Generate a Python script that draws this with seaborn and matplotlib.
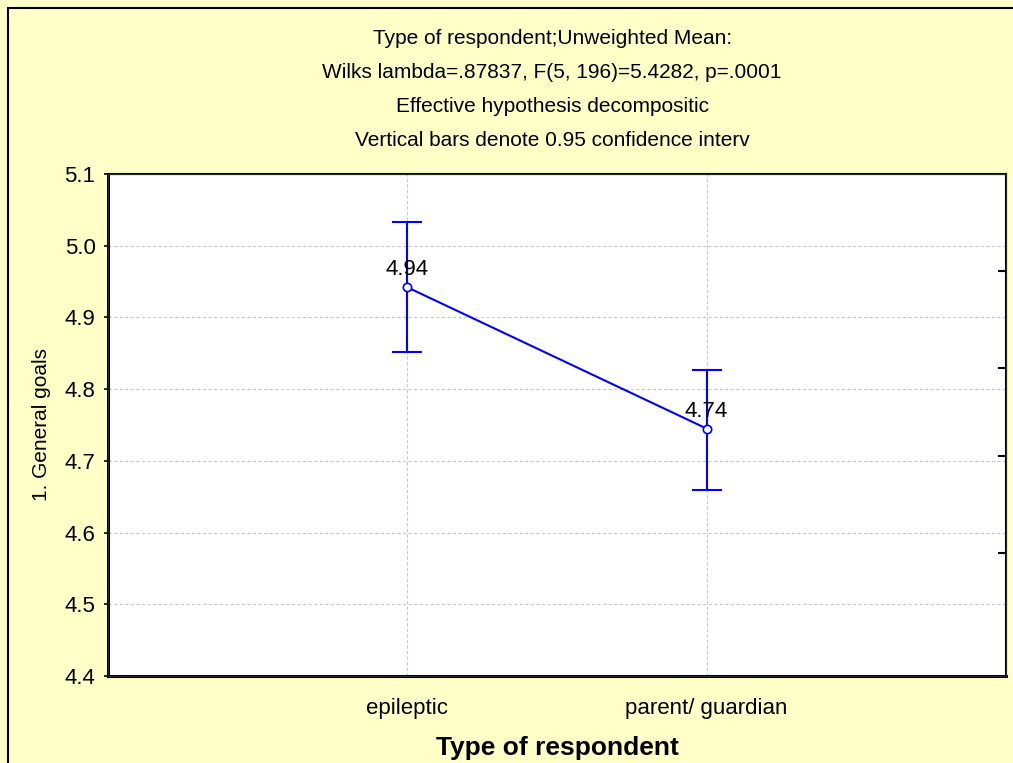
import matplotlib
matplotlib.use("Agg")
import matplotlib.pyplot as plt
import seaborn as sns
import pandas as pd
from matplotlib.patches import Rectangle

# values
groups = ["epileptic", "parent/ guardian"]
means = [4.942, 4.745]
ci_low = [4.852, 4.659]
ci_high = [5.033, 4.827]
mean_labels = ["4.94", "4.74"]

title_lines = ["Type of respondent;Unweighted Mean:",
               "Wilks lambda=.87837, F(5, 196)=5.4282, p=.0001",
               "Effective hypothesis decompositic",
               "Vertical bars denote 0.95 confidence interv"]
yticks = [4.4, 4.5, 4.6, 4.7, 4.8, 4.9, 5.0, 5.1]
right_ticks = [4.965, 4.829, 4.707, 4.571]

sns.set_style("white")
plt.rcParams['font.family'] = ['Liberation Sans', 'DejaVu Sans']
plt.rcParams['text.color'] = 'black'
plt.rcParams['axes.labelcolor'] = 'black'
plt.rcParams['xtick.color'] = 'black'
plt.rcParams['ytick.color'] = 'black'

df = pd.DataFrame({"group": groups, "mean": means})

fig = plt.figure(figsize=(10.13, 7.63), dpi=100)
fig.patch.set_facecolor("#ffffc8")
fig.patches.append(Rectangle((8 / 1013, -0.1), 1.2, 1.1 - 8 / 763,
                             transform=fig.transFigure, fill=False,
                             edgecolor="black", linewidth=1.5, zorder=0))
ax = fig.add_axes([0.1066, 0.114, 0.8864, 0.658])
ax.set_facecolor("white")

blue = "#0000ff"
ax.errorbar([0, 1], means,
            yerr=[[m - lo for m, lo in zip(means, ci_low)],
                  [hi - m for m, hi in zip(means, ci_high)]],
            fmt="none", ecolor=blue, elinewidth=1.5, capsize=11, capthick=1.5, zorder=3)
sns.pointplot(data=df, x="group", y="mean", errorbar=None, color=blue,
              markers="o", linewidth=1.5, markersize=6, markerfacecolor="white",
              markeredgecolor=blue, markeredgewidth=1.2, ax=ax, zorder=4)

for i, (m, lab) in enumerate(zip(means, mean_labels)):
    ax.annotate(lab, (i, m), xytext=(0, 5), textcoords="offset points",
                ha="center", va="bottom", fontsize=16, color="black")

ax.set_xlim(-1, 2)
ax.set_ylim(4.4, 5.1)
ax.set_yticks(yticks)
ax.set_yticklabels([f"{t:.1f}" for t in yticks], fontsize=16)
ax.tick_params(axis="x", labelsize=16, pad=16, length=0)
ax.tick_params(axis="y", length=3, width=1.2, pad=6, left=True)
ax.grid(True, color="#c8c8c8", linestyle=(0, (3, 2)), linewidth=0.8)
for name, s in ax.spines.items():
    s.set_color("black")
    s.set_linewidth(2.2 if name in ("left", "bottom") else 1.5)
    s.set_visible(True)

ax.set_xlabel("Type of respondent", fontsize=19, fontweight="bold", labelpad=12)
ax.set_ylabel("1. General goals", fontsize=15, labelpad=10)

ax2 = ax.twinx()
ax2.set_ylim(4.4, 5.1)
ax2.set_yticks(right_ticks)
ax2.set_yticklabels([])
ax2.tick_params(axis="y", direction="in", length=6, width=1.5, color="black")
ax2.grid(False)

for k, line in enumerate(title_lines):
    fig.text(0.545, 1 - (38 + 34 * k) / 763, line, ha="center", va="center", fontsize=15)

fig.savefig("out.png", dpi=100, facecolor=fig.get_facecolor())
